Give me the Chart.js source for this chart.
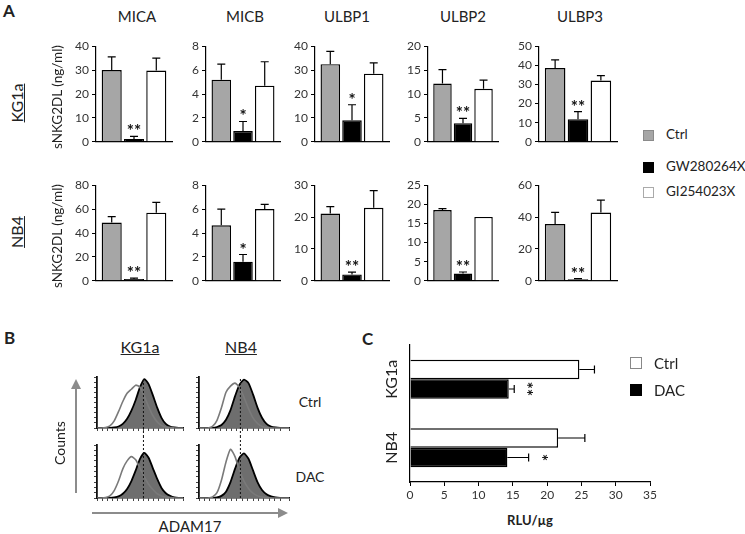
<!DOCTYPE html>
<html>
<head>
<meta charset="utf-8">
<script src="https://cdn.jsdelivr.net/npm/chart.js@4.4.1/dist/chart.umd.min.js"></script>
<style>
body { margin: 0; background: #fff; width: 745px; height: 534px; position: relative; overflow: hidden; font-family: Lato, "Open Sans", sans-serif; color: #222; }
canvas, .t, .sq, svg { position: absolute; }
.t { white-space: nowrap; line-height: 1; }
.c { transform: translate(-50%, -50%); }
.l { transform: translate(0, -50%); }
.rot { transform: translate(-50%, -50%) rotate(-90deg); }
.u { text-decoration: underline; }
.b { font-weight: bold; }
.sq { box-sizing: border-box; }
</style>
</head>
<body>
<svg width="745" height="534" style="left:0;top:0">
  <line x1="76" y1="493" x2="76" y2="388" stroke="#8c8c8c" stroke-width="2"/>
  <polygon points="76,379 71,389 81,389" fill="#8c8c8c"/>
  <line x1="92" y1="513" x2="279" y2="513" stroke="#8c8c8c" stroke-width="2"/>
  <polygon points="288,513 278,508 278,518" fill="#8c8c8c"/>
</svg>
<script>
// panel A: soluble NKG2D ligands (ng/ml)
const markers = ['MICA', 'MICB', 'ULBP1', 'ULBP2', 'ULBP3'];
const groups = ['Ctrl', 'GW280264X', 'GI254023X'];

const kg1aCtrl = [30, 5.2, 32.5, 12.2, 38.6];
const kg1aCtrlErr = [35.5, 6.5, 37.8, 15.1, 42.9];
const kg1aGW = [1.2, 0.9, 9, 3.9, 11.8];
const kg1aGWErr = [2.3, 1.7, 15.5, 4.9, 15.8];
const kg1aGI = [29.8, 4.7, 28.5, 11.1, 32];
const kg1aGIErr = [35, 6.7, 33, 12.9, 34.6];
const kg1aMax = [40, 8, 40, 20, 50];
const kg1aStep = [10, 2, 10, 5, 10];
const kg1aStars = ['**', '*', '*', '**', '**'];

const nb4Ctrl = [48.8, 4.65, 21.1, 18.5, 35.6];
const nb4CtrlErr = [53.7, 6, 23.3, 18.9, 43];
const nb4GW = [1.5, 1.6, 2, 1.9, 1];
const nb4GWErr = [2.3, 2.2, 2.7, 2.3, 1.4];
const nb4GI = [57, 6, 22.9, 16.7, 42.8];
const nb4GIErr = [65.7, 6.4, 28.3, null, 50.6];
const nb4Max = [80, 8, 30, 25, 60];
const nb4Step = [20, 2, 10, 5, 20];
const nb4Stars = ['**', '*', '**', '**', '**'];

// panel B: ADAM17 histograms (counts, % of max)
const histBins = [0, 5, 10, 15, 20, 25, 30, 35, 40, 45, 50, 55, 60, 65, 70, 75, 80, 85, 90, 95, 100];
const kg1aCtrlAdam = [0, 0, 0, 0, 1, 3, 8, 18, 34, 55, 80, 96, 86, 64, 40, 20, 8, 3, 1, 0, 0];
const kg1aCtrlIso = [0, 0, 1, 4, 14, 32, 52, 68, 76, 84, 80, 62, 42, 24, 12, 5, 2, 1, 0, 0, 0];
const nb4CtrlAdam = [0, 0, 0, 0, 2, 6, 16, 35, 62, 85, 95, 88, 66, 40, 20, 8, 3, 1, 0, 0, 0];
const nb4CtrlIso = [0, 0, 0, 3, 15, 40, 70, 82, 88, 80, 60, 38, 20, 9, 3, 1, 0, 0, 0, 0, 0];
const kg1aDacAdam = [0, 0, 0, 0, 1, 3, 8, 17, 32, 52, 74, 85, 76, 56, 36, 19, 9, 4, 1, 0, 0];
const kg1aDacIso = [0, 0, 1, 4, 14, 32, 55, 70, 78, 72, 56, 40, 26, 16, 8, 4, 2, 1, 0, 0, 0];
const nb4DacAdam = [0, 0, 0, 0, 1, 4, 12, 30, 55, 76, 84, 74, 52, 30, 15, 7, 3, 1, 0, 0, 0];
const nb4DacIso = [0, 0, 0, 2, 10, 34, 68, 92, 78, 52, 32, 18, 9, 4, 2, 1, 0, 0, 0, 0, 0];
const medianLine = [54, 46];

// panel C: RLU/ug
const cCells = ['KG1a', 'NB4'];
const cCtrl = [24.7, 21.6];
const cCtrlErr = [26.9, 25.5];
const cDAC = [14.4, 14.2];
const cDACErr = [15.2, 17.3];
const cStars = ['**', '*'];

Chart.defaults.font.family = 'Lato';
Chart.defaults.color = '#333';

function addCanvas(left, top, w, h) {
    const c = document.createElement('canvas');
    c.width = w; c.height = h;
    c.style.left = left + 'px'; c.style.top = top + 'px';
    c.style.width = w + 'px'; c.style.height = h + 'px';
    document.body.appendChild(c);
    return c;
}

function label(text, x, y, size, cls) {
    const d = document.createElement('div');
    d.className = 't ' + cls;
    d.textContent = text;
    d.style.left = x + 'px'; d.style.top = y + 'px'; d.style.fontSize = size + 'px';
    document.body.appendChild(d);
}

function square(x, y, size, fill, border) {
    const d = document.createElement('div');
    d.className = 'sq';
    d.style.left = x + 'px'; d.style.top = (y - size / 2) + 'px';
    d.style.width = size + 'px'; d.style.height = size + 'px';
    d.style.background = fill; d.style.border = '1px solid ' + border;
    document.body.appendChild(d);
}

// error bars + significance stars
function errPlugin(errs, stars, horiz) {
    return {
        id: 'errbars',
        afterDatasetsDraw(chart) {
            const ctx = chart.ctx;
            const vs = horiz ? chart.scales.x : chart.scales.y;
            ctx.save();
            ctx.strokeStyle = '#000';
            ctx.lineWidth = 1.2;
            ctx.fillStyle = '#111';
            chart.data.datasets.forEach((ds, i) => {
                chart.getDatasetMeta(i).data.forEach((bar, j) => {
                    const e = errs[i][j];
                    if (e == null) return;
                    const p = vs.getPixelForValue(e);
                    ctx.beginPath();
                    if (horiz) {
                        ctx.moveTo(bar.x, bar.y); ctx.lineTo(p, bar.y);
                        ctx.moveTo(p, bar.y - 4); ctx.lineTo(p, bar.y + 4);
                    } else {
                        ctx.moveTo(bar.x, bar.y); ctx.lineTo(bar.x, p);
                        ctx.moveTo(bar.x - 4, p); ctx.lineTo(bar.x + 4, p);
                    }
                    ctx.stroke();
                    const s = stars[i] ? stars[i][j] : null;
                    if (!s) return;
                    ctx.font = 'bold 17px Lato';
                    ctx.textAlign = 'center';
                    ctx.textBaseline = 'alphabetic';
                    if (horiz) {
                        ctx.save();
                        ctx.translate(p + 6, bar.y);
                        ctx.rotate(Math.PI / 2);
                        ctx.fillText(s, 0, 0);
                        ctx.restore();
                    } else {
                        ctx.fillText(s, bar.x, p + 1);
                    }
                });
            });
            ctx.restore();
        }
    };
}

const axX = [96, 206, 315, 428, 539];
const axW = [76, 74, 74, 70, 78];
const rowTop = [44, 183];
const rowZero = [149, 288];

function barPanel(row, k, vals, errs, max, step, stars) {
    const YW = 32, PT = 8, PB = 3;
    const cv = addCanvas(axX[k] - YW, rowTop[row] - PT, YW + axW[k] + 2, PT + rowZero[row] - rowTop[row] + PB);
    const colors = ['#a6a6a6', '#000', '#fff'];
    new Chart(cv, {
        type: 'bar',
        data: {
            labels: [markers[k]],
            datasets: groups.map((g, i) => ({
                label: g,
                data: [vals[i]],
                backgroundColor: colors[i],
                borderColor: '#000',
                borderWidth: 1.4,
                categoryPercentage: 0.88,
                barPercentage: 0.9
            }))
        },
        options: {
            responsive: false, animation: false, devicePixelRatio: 1,
            layout: { padding: { top: PT, bottom: PB, left: 0, right: 2 } },
            plugins: { legend: { display: false }, tooltip: { enabled: false } },
            scales: {
                x: {
                    ticks: { display: false },
                    grid: { display: false },
                    border: { color: '#000', width: 1.2 },
                    afterFit: (s) => { s.height = 0; }
                },
                y: {
                    min: 0, max: max,
                    ticks: { stepSize: step, font: { size: 12 }, color: '#333', padding: 3 },
                    grid: { drawOnChartArea: false, tickLength: 4, color: '#000' },
                    border: { color: '#000', width: 1.2 },
                    afterFit: (s) => { s.width = YW; }
                }
            }
        },
        plugins: [errPlugin(errs.map(e => [e]), stars.map(s => [s]), false)]
    });
}

for (let k = 0; k < markers.length; k++) {
    barPanel(0, k, [kg1aCtrl[k], kg1aGW[k], kg1aGI[k]], [kg1aCtrlErr[k], kg1aGWErr[k], kg1aGIErr[k]],
        kg1aMax[k], kg1aStep[k], [null, kg1aStars[k], null]);
    barPanel(1, k, [nb4Ctrl[k], nb4GW[k], nb4GI[k]], [nb4CtrlErr[k], nb4GWErr[k], nb4GIErr[k]],
        nb4Max[k], nb4Step[k], [null, nb4Stars[k], null]);
}

// histograms
function histPanel(plotLeft, plotW, top, padTop, plotH, padBottom, adam, iso, lineX, lineDown) {
    const cv = addCanvas(plotLeft - 4, top, 4 + plotW + 3, padTop + plotH + 4 + padBottom);
    const pts = (arr) => histBins.map((b, i) => ({ x: b, y: arr[i] }));
    new Chart(cv, {
        type: 'line',
        data: {
            datasets: [
                { label: 'isotype', data: pts(iso), borderColor: '#7a7a7a', borderWidth: 1.6, fill: false, pointRadius: 0, tension: 0.2 },
                { label: 'ADAM17', data: pts(adam), borderColor: '#000', borderWidth: 1.8, backgroundColor: '#6e6e6e', fill: 'origin', pointRadius: 0, tension: 0.2 }
            ]
        },
        options: {
            responsive: false, animation: false, devicePixelRatio: 1,
            layout: { padding: { top: padTop, bottom: padBottom, left: 0, right: 3 } },
            plugins: { legend: { display: false }, tooltip: { enabled: false } },
            scales: {
                x: {
                    type: 'linear', min: 0, max: 100,
                    ticks: { display: false, stepSize: 6 },
                    grid: { drawOnChartArea: false, tickLength: 3, color: '#444' },
                    border: { color: '#111', width: 1.5 },
                    afterFit: (s) => { s.height = 4; }
                },
                y: {
                    min: 0, max: 100,
                    ticks: { display: false, stepSize: 10 },
                    grid: { drawOnChartArea: false, tickLength: 3, color: '#444' },
                    border: { color: '#111', width: 1.8 },
                    afterFit: (s) => { s.width = 4; }
                }
            }
        },
        plugins: [{
            id: 'median',
            afterDatasetsDraw(chart) {
                const ctx = chart.ctx;
                const x = chart.scales.x.getPixelForValue(lineX);
                ctx.save();
                ctx.strokeStyle = '#111';
                ctx.lineWidth = 1;
                ctx.setLineDash([2, 2]);
                ctx.beginPath();
                if (lineDown) { ctx.moveTo(x, chart.chartArea.top + 2); ctx.lineTo(x, chart.height); }
                else { ctx.moveTo(x, 0); ctx.lineTo(x, chart.chartArea.bottom); }
                ctx.stroke();
                ctx.restore();
            }
        }]
    });
}

histPanel(97, 86, 370, 7, 51, 4, kg1aCtrlAdam, kg1aCtrlIso, medianLine[0], true);
histPanel(199, 90, 370, 7, 51, 4, nb4CtrlAdam, nb4CtrlIso, medianLine[1], true);
histPanel(97, 86, 436, 9, 53, 2, kg1aDacAdam, kg1aDacIso, medianLine[0], false);
histPanel(199, 90, 436, 9, 53, 2, nb4DacAdam, nb4DacIso, medianLine[1], false);

// panel C
const cv = addCanvas(380, 340, 282, 162);
new Chart(cv, {
    type: 'bar',
    data: {
        labels: cCells,
        datasets: [
            { label: 'Ctrl', data: cCtrl, backgroundColor: '#fff', borderColor: '#000', borderWidth: 1.4, categoryPercentage: 0.57, barPercentage: 1 },
            { label: 'DAC', data: cDAC, backgroundColor: '#000', borderColor: '#000', borderWidth: 1.4, categoryPercentage: 0.57, barPercentage: 1 }
        ]
    },
    options: {
        indexAxis: 'y',
        responsive: false, animation: false, devicePixelRatio: 1,
        layout: { padding: { top: 5, bottom: 0, left: 0, right: 12 } },
        plugins: { legend: { display: false }, tooltip: { enabled: false } },
        scales: {
            x: {
                min: 0, max: 35,
                ticks: { stepSize: 5, font: { size: 12 }, color: '#333', padding: 2, maxRotation: 0 },
                grid: { drawOnChartArea: false, tickLength: 4, color: '#000' },
                border: { color: '#000', width: 1.2 },
                afterFit: (s) => { s.height = 20; }
            },
            y: {
                ticks: { display: false },
                grid: { display: false },
                border: { color: '#000', width: 1.2 },
                afterFit: (s) => { s.width = 30; }
            }
        }
    },
    plugins: [errPlugin([cCtrlErr, cDACErr], [null, cStars], true), {
        id: 'celllabels',
        afterDraw(chart) {
            const ctx = chart.ctx;
            const ys = chart.scales.y;
            ctx.save();
            ctx.fillStyle = '#222';
            ctx.font = '16px Lato';
            ctx.textAlign = 'center';
            ctx.textBaseline = 'middle';
            cCells.forEach((c, i) => {
                ctx.save();
                ctx.translate(chart.chartArea.left - 18, ys.getPixelForValue(i));
                ctx.rotate(-Math.PI / 2);
                ctx.fillText(c, 0, 0);
                ctx.restore();
            });
            ctx.restore();
        }
    }]
});

// text
label('A', 3, 10, 17, 'b l');
const titleX = [137, 245, 347, 463, 580];
markers.forEach((m, k) => label(m, titleX[k], 16, 15, 'c'));
label('KG1a', 17, 103, 16, 'rot u');
label('NB4', 17, 232, 16, 'rot u');
label('sNKG2DL (ng/ml)', 58, 97, 13.5, 'rot');
label('sNKG2DL (ng/ml)', 58, 236, 13.5, 'rot');

const legA = [['Ctrl', '#a6a6a6', '#8a8a8a', 135], ['GW280264X', '#000', '#000', 167], ['GI254023X', '#fff', '#aaa', 192]];
legA.forEach(r => { square(643, r[3], 11, r[1], r[2]); label(r[0], 666, r[3], 13.5, 'l'); });

label('B', 4, 337, 17, 'b l');
label('KG1a', 140, 347, 16, 'c u');
label('NB4', 241, 347, 16, 'c u');
label('Ctrl', 310, 402, 14, 'c');
label('DAC', 310, 477, 14, 'c');
label('Counts', 60, 443, 14, 'rot');
label('ADAM17', 190, 526, 15, 'c');

label('C', 362, 338, 17, 'b l');
label('RLU/µg', 530, 520, 13, 'c b');
square(630, 363, 12, '#fff', '#888');
label('Ctrl', 654, 363, 15, 'l');
square(630, 390, 12, '#000', '#000');
label('DAC', 654, 390, 15, 'l');
</script>
</body>
</html>
